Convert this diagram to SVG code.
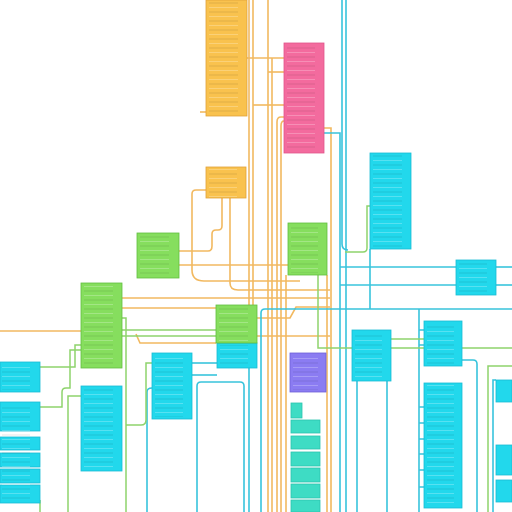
<svg xmlns="http://www.w3.org/2000/svg" width="512" height="512" viewBox="0 0 512 512">
<style>
.bg{fill:#ffffff}
.o{fill:#f9c24e;stroke:#e2a23a;stroke-width:0.8}
.p{fill:#f36b9e;stroke:#e0558a;stroke-width:0.8}
.c{fill:#22d8ec;stroke:#1bbcd4;stroke-width:0.8}
.g{fill:#86de5e;stroke:#62bf40;stroke-width:0.8}
.v{fill:#8b7cf2;stroke:#6e60d8;stroke-width:0.8}
.t{fill:#3edcc4;stroke:#2cc4ae;stroke-width:0.8}
.rows{fill:url(#rowpat)}
.lo{fill:none;stroke:#f2b960;stroke-width:1.6}
.lc{fill:none;stroke:#38c4dc;stroke-width:1.6}
.lg{fill:none;stroke:#8ed36c;stroke-width:1.5}
</style>
<defs>
<pattern id="rowpat" patternUnits="userSpaceOnUse" x="0" y="0" width="512" height="9">
<rect x="0" y="2.5" width="512" height="1" fill="#000" fill-opacity="0.1"/>
<rect x="0" y="7" width="512" height="0.7" fill="#fff" fill-opacity="0.35"/>
</pattern>
</defs>
<rect class="bg" x="0" y="0" width="512" height="512"/>
<g id="connectors">
<path class="lo" d="M249,0 V305"/>
<path class="lo" d="M253,0 V305"/>
<path class="lo" d="M268,0 V512"/>
<path class="lo" d="M272,58 V512"/>
<path class="lo" d="M247,58 H284"/>
<path class="lo" d="M268,72 H284"/>
<path class="lo" d="M253,105 H284"/>
<path class="lo" d="M284,117 H281 Q277,117 277,122 V512"/>
<path class="lo" d="M284,121 Q281,121 281,126 V512"/>
<path class="lo" d="M324,128 H331 V512"/>
<path class="lo" d="M327,275 V512"/>
<path class="lo" d="M286,275 V512"/>
<path class="lo" d="M200,112 H206"/>
<path class="lo" d="M179,251 H208 Q212,251 212,246 V234 Q212,230 216,230 H218 Q222,230 222,226 V198"/>
<path class="lo" d="M206,190 H196 Q192,190 192,194 V270 Q192,281 204,281 H300"/>
<path class="lo" d="M179,265 H288"/>
<path class="lo" d="M230,198 V283 Q230,290 238,290 H330"/>
<path class="lo" d="M122,298 H330"/>
<path class="lo" d="M122,308 H216"/>
<path class="lo" d="M0,331 H81"/>
<path class="lo" d="M136,334 L140,343 H216"/>
<path class="lo" d="M257,318 H290 L296,307 H330"/>
<path class="lo" d="M257,336 H330"/>
<path class="lc" d="M346,0 V512"/>
<path class="lc" d="M324,133 H340 V512"/>
<path class="lc" d="M342,0 V244 Q342,250 348,250"/>
<path class="lc" d="M370,249 V309"/>
<path class="lc" d="M340,267 H456"/>
<path class="lc" d="M340,285 H456"/>
<path class="lc" d="M496,267 H512"/>
<path class="lc" d="M496,285 H512"/>
<path class="lc" d="M261,512 V313 Q261,309 265,309 H512"/>
<path class="lc" d="M419,309 V512"/>
<path class="lc" d="M419,330 H424 M419,345 H424 M419,407 H424 M419,423 H424 M419,439 H424 M419,454 H424 M419,470 H424 M419,487 H424"/>
<path class="lc" d="M462,360 H473 Q477,360 477,364 V512"/>
<path class="lc" d="M493,512 V380 H496"/>
<path class="lc" d="M357,381 V512"/>
<path class="lc" d="M387,381 V512"/>
<path class="lc" d="M192,363 H217"/>
<path class="lc" d="M192,375 H217"/>
<path class="lc" d="M197,512 V386 Q197,382 201,382 H240 Q244,382 244,386 V512"/>
<path class="lc" d="M249,368 V512"/>
<path class="lc" d="M147,512 V392 Q147,388 152,388"/>
<path class="lg" d="M370,206 H367 V248 Q367,252 363,252 H345"/>
<path class="lg" d="M40,367 H75 V345 H81"/>
<path class="lg" d="M40,407 H62 V392 Q62,388 66,388 H70 V350 H81"/>
<path class="lg" d="M81,396 H68 V512"/>
<path class="lg" d="M122,318 H126 V512"/>
<path class="lg" d="M122,330 H216"/>
<path class="lg" d="M122,336 H216"/>
<path class="lg" d="M152,363 H146 V420 Q146,425 141,425 H126"/>
<path class="lg" d="M318,275 V348 H512"/>
<path class="lg" d="M391,339 H424"/>
<path class="lg" d="M488,512 V366 H512"/>
<path class="lg" d="M40,500 V512"/>
</g>
<g id="n-orange-1"><rect class="o" x="206" y="0" width="41" height="116"/><rect class="rows" x="209" y="2" width="29" height="112"/></g>
<g id="n-orange-2"><rect class="o" x="206" y="167" width="40" height="31"/><rect class="rows" x="209" y="169" width="28" height="28"/></g>
<g id="n-pink"><rect class="p" x="284" y="43" width="40" height="110"/><rect class="rows" x="287" y="45" width="28" height="106"/></g>
<g id="n-cyan-1"><rect class="c" x="370" y="153" width="41" height="96"/><rect class="rows" x="373" y="155" width="29" height="92"/></g>
<g id="n-cyan-2"><rect class="c" x="456" y="260" width="40" height="35"/><rect class="rows" x="459" y="262" width="28" height="31"/></g>
<g id="n-cyan-3"><rect class="c" x="352" y="330" width="39" height="51"/><rect class="rows" x="355" y="332" width="27" height="47"/></g>
<g id="n-cyan-4"><rect class="c" x="424" y="321" width="38" height="45"/><rect class="rows" x="427" y="323" width="27" height="41"/></g>
<g id="n-cyan-5"><rect class="c" x="424" y="383" width="38" height="125"/><rect class="rows" x="427" y="385" width="27" height="121"/></g>
<g id="n-cyan-6"><rect class="c" x="496" y="380" width="16" height="22"/><rect class="c" x="496" y="445" width="16" height="30"/><rect class="c" x="496" y="480" width="16" height="22"/></g>
<g id="n-cyan-7"><rect class="c" x="152" y="353" width="40" height="66"/><rect class="rows" x="155" y="355" width="28" height="62"/></g>
<g id="n-cyan-8"><rect class="c" x="217" y="343" width="40" height="25"/><rect class="rows" x="220" y="345" width="28" height="21"/></g>
<g id="n-cyan-9"><rect class="c" x="81" y="386" width="41" height="85"/><rect class="rows" x="84" y="388" width="29" height="81"/></g>
<g id="n-cyan-left-1"><rect class="c" x="0" y="362" width="40" height="30"/><rect class="rows" x="2" y="364" width="28" height="26"/></g>
<g id="n-cyan-left-2">
<rect class="c" x="0" y="402" width="40" height="29"/>
<rect class="c" x="0" y="437" width="40" height="13"/>
<rect class="c" x="0" y="453" width="40" height="14"/>
<rect class="c" x="0" y="469" width="40" height="14"/>
<rect class="c" x="0" y="485" width="40" height="18"/>
<rect class="rows" x="2" y="404" width="28" height="98"/>
</g>
<g id="n-green-1"><rect class="g" x="137" y="233" width="42" height="45"/><rect class="rows" x="140" y="235" width="29" height="41"/></g>
<g id="n-green-2"><rect class="g" x="288" y="223" width="39" height="52"/><rect class="rows" x="291" y="225" width="27" height="48"/></g>
<g id="n-green-3"><rect class="g" x="81" y="283" width="41" height="85"/><rect class="rows" x="84" y="285" width="29" height="81"/></g>
<g id="n-green-4"><rect class="g" x="216" y="305" width="41" height="38"/><rect class="rows" x="219" y="307" width="29" height="34"/></g>
<g id="n-purple"><rect class="v" x="290" y="353" width="36" height="39"/><rect class="rows" x="293" y="355" width="25" height="35"/></g>
<g id="n-teal">
<rect class="t" x="291" y="403" width="11" height="15"/>
<rect class="t" x="291" y="420" width="29" height="13"/>
<rect class="t" x="291" y="436" width="29" height="13"/>
<rect class="t" x="291" y="452" width="29" height="14"/>
<rect class="t" x="291" y="468" width="29" height="14"/>
<rect class="t" x="291" y="484" width="29" height="14"/>
<rect class="t" x="291" y="500" width="29" height="12"/>
</g>
</svg>
